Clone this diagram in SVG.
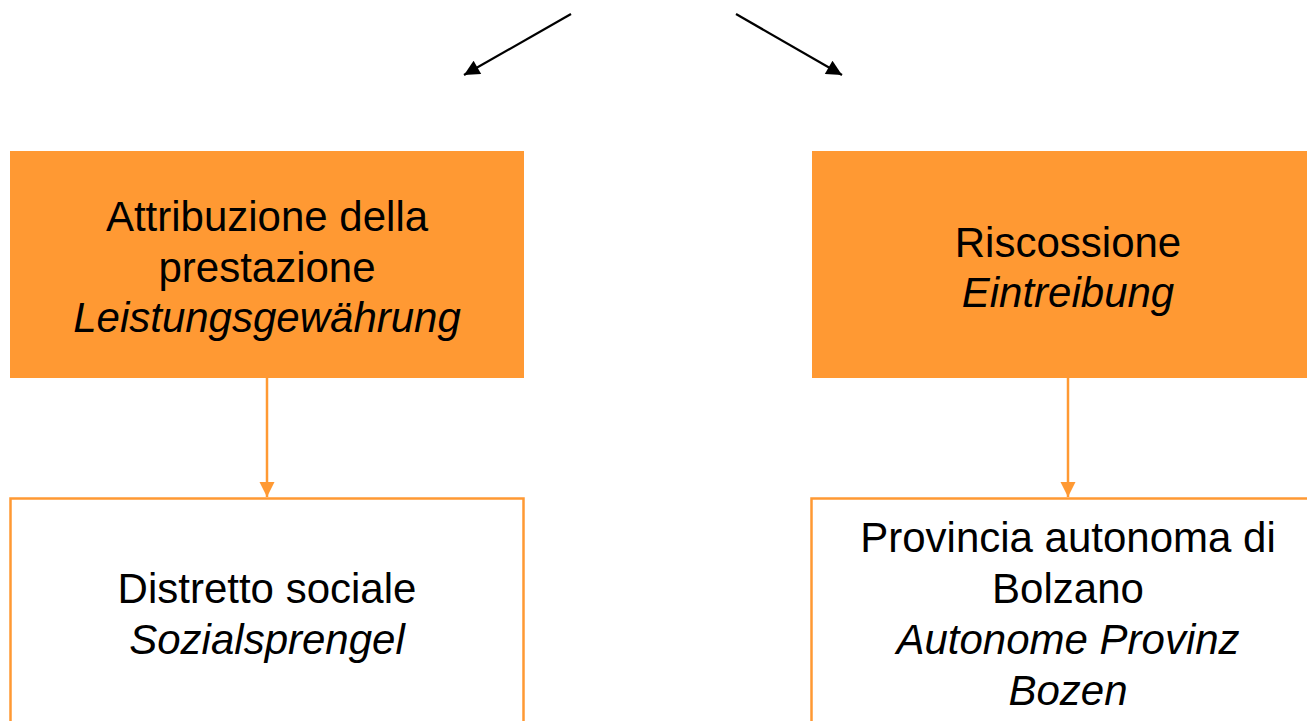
<svg xmlns="http://www.w3.org/2000/svg" width="1307" height="721" viewBox="0 0 1307 721">
<style>
text{font-family:"Liberation Sans",Arial,sans-serif;font-size:42px;fill:#000;text-anchor:middle}
.it{font-style:italic}
.top{fill:#FF9933;stroke:none}
.bot{fill:#fff;stroke:#FF9933;stroke-width:2.5}
.oc{stroke:#FF9933;stroke-width:2.5;fill:none}
.bc{stroke:#000;stroke-width:2.2;fill:none}
</style>
<defs>
<marker id="ah" viewBox="0 0 10 10" refX="10" refY="5" markerWidth="8" markerHeight="7" markerUnits="strokeWidth" orient="auto">
<path d="M0,0 L10,5 L0,10 Z" fill="#000"/>
</marker>
<marker id="oh" viewBox="0 0 10 10" refX="10" refY="5" markerWidth="6" markerHeight="7" markerUnits="strokeWidth" orient="auto">
<path d="M0,0 L10,5 L0,10 Z" fill="#FF9933"/>
</marker>
</defs>
<g id="connectors">
<line class="bc" x1="571" y1="14" x2="464" y2="75" marker-end="url(#ah)"/>
<line class="bc" x1="736" y1="14" x2="842" y2="75" marker-end="url(#ah)"/>
<line class="oc" x1="267" y1="378" x2="267" y2="497" marker-end="url(#oh)"/>
<line class="oc" x1="1068" y1="378" x2="1068" y2="497" marker-end="url(#oh)"/>
</g>
<g id="node-attribuzione">
<rect class="top" x="10" y="151" width="514" height="227"/>
<text x="267" y="231">Attribuzione della</text>
<text x="267" y="281.5">prestazione</text>
<text x="267" y="332" class="it">Leistungsgewährung</text>
</g>
<g id="node-riscossione">
<rect class="top" x="812" y="151" width="500" height="227"/>
<text x="1068" y="257">Riscossione</text>
<text x="1068" y="307" class="it">Eintreibung</text>
</g>
<g id="node-distretto">
<rect class="bot" x="10.5" y="498.5" width="513" height="240"/>
<text x="267" y="603">Distretto sociale</text>
<text x="267" y="654" class="it">Sozialsprengel</text>
</g>
<g id="node-provincia">
<rect class="bot" x="811.5" y="498.5" width="510" height="240"/>
<text x="1068" y="552">Provincia autonoma di</text>
<text x="1068" y="603">Bolzano</text>
<text x="1068" y="654" class="it">Autonome Provinz</text>
<text x="1068" y="705" class="it">Bozen</text>
</g>
</svg>
